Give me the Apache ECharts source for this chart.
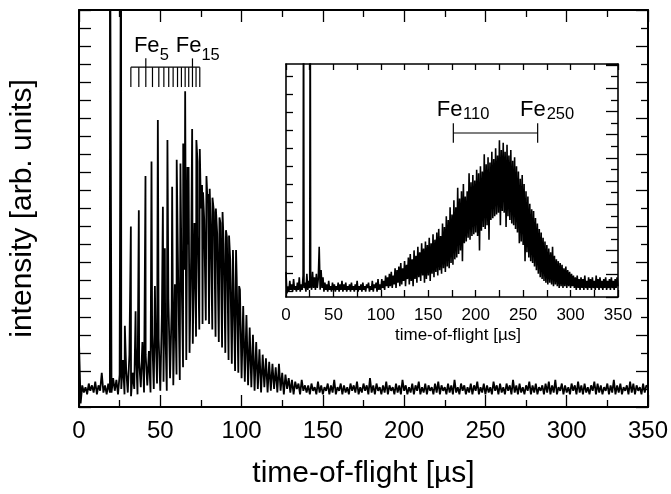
<!DOCTYPE html>
<html>
<head>
<meta charset="utf-8">
<script src="https://cdn.jsdelivr.net/npm/echarts@6/dist/echarts.min.js"></script>
<style>
html,body{margin:0;padding:0;background:#fff;}
#chart{width:671px;height:494px;}
</style>
</head>
<body>
<div id="chart"></div>
<script>
// ---------------- DATA ----------------
// Main spectrum: intensity sampled every 1 µs from 0 to 350 µs
const mainStep = 1;
const mainIntensity = [
 3.6,0.2,1.2,0.8,1.1,0.7,1.3,0.9,1.2,0.8,
 1.4,0.7,1.2,0.9,1.9,0.8,1.2,0.7,1.3,0.8,
 0.8,1.6,0.9,1.5,0.7,1.8,1.0,2.6,0.7,2.1,
 0.8,2.9,0.6,1.9,1.0,3.3,0.7,2.5,1.1,3.6,
 0.8,2.9,1.2,3.1,0.8,4.0,1.0,4.6,1.3,3.8,
 0.9,5.2,1.4,4.8,0.9,6.0,1.6,5.5,1.2,6.8,
 1.8,7.2,1.5,8.0,2.2,7.6,2.6,9.0,3.0,8.4,
 3.5,10.2,3.9,9.5,4.3,11.0,4.6,10.4,4.8,11.5,
 4.6,10.0,4.3,10.8,3.9,9.6,3.6,10.2,3.3,9.0,
 3.0,9.4,2.6,8.2,2.4,8.7,2.0,7.2,1.9,6.5,
 1.6,5.6,1.4,5.1,1.2,4.4,1.1,4.0,0.9,3.6,
 1.0,3.2,0.8,2.9,1.1,2.7,0.8,2.5,0.9,2.4,
 1.0,2.2,0.8,2.4,0.9,1.9,0.7,1.8,1.0,1.6,
 0.8,1.5,0.7,1.4,1.0,1.3,0.7,1.5,0.9,1.2,
 0.8,1.2,0.7,1.3,0.9,1.1,0.7,1.4,0.8,1.2,
 0.7,1.1,0.9,1.3,0.7,1.2,0.8,1.5,0.7,1.1,
 0.9,1.3,0.7,1.2,0.8,1.1,0.7,1.3,0.9,1.2,
 0.8,1.4,0.7,1.1,0.8,1.3,0.9,1.2,0.7,1.6,
 0.8,1.2,0.7,1.3,0.9,1.1,0.7,1.2,0.8,1.4,
 0.7,1.2,0.9,1.1,0.7,1.3,0.8,1.2,0.7,1.5,
 0.9,1.2,0.7,1.1,0.8,1.3,0.7,1.2,0.9,1.4,
 0.7,1.1,0.8,1.3,0.7,1.2,0.9,1.1,0.7,1.3,
 0.8,1.4,0.7,1.2,0.9,1.1,0.7,1.3,0.8,1.2,
 0.7,1.5,0.8,1.1,0.7,1.3,0.9,1.2,0.7,1.1,
 0.8,1.3,0.7,1.2,0.9,1.4,0.7,1.1,0.8,1.3,
 0.7,1.2,0.8,1.1,0.7,1.4,0.9,1.2,0.7,1.3,
 0.8,1.1,0.7,1.3,0.9,1.2,0.7,1.5,0.8,1.2,
 0.7,1.3,0.8,1.1,0.7,1.2,0.9,1.4,0.7,1.2,
 0.8,1.3,0.7,1.1,0.9,1.2,0.7,1.3,0.8,1.4,
 0.7,1.2,0.8,1.5,0.7,1.1,0.9,1.3,0.7,1.2,
 0.8,1.1,0.7,1.3,0.9,1.2,0.7,1.4,0.8,1.2,
 0.7,1.3,0.8,1.1,0.7,1.2,0.9,1.4,0.7,1.3,
 0.8,1.2,0.7,1.1,0.9,1.3,0.7,1.2,0.8,1.5,
 0.7,1.2,0.8,1.3,0.7,1.1,0.9,1.2,0.7,1.4,
 0.8,1.3,0.7,1.2,0.9,1.1,0.7,1.3,0.8,1.2,
 1.1
];
// Sharp cluster peaks in the main spectrum
const mainPeakTimes = [19.05,25.85,28.2,31.9,34.8,36.8,40.9,44.6,46.7,48.5,51.6,52.8,54.4,57.3,60.1,62.4,64.1,65.3,66.7,67.4,69.6,72.2,72.9,74.3,75.7,76.3,78.4,79.4,80.4,82.1,84.2,86.4,88.3,90.4,92.3,94.7,96.6,98.5];
const mainPeakHeights = [30,30,4.5,10.0,5.3,10.9,12.8,13.6,6.7,15.9,11.1,8.8,14.8,12.2,13.7,13.5,14.6,17.5,13.3,13.3,15.4,14.8,13.6,14.3,12.3,11.9,12.8,11.8,12.1,11.6,11.0,10.5,10.8,9.8,9.5,8.7,8.7,6.7];

// Inset spectrum: intensity sampled every 1 µs from 0 to 350 µs
const insetStep = 1;
const insetIntensity = [
 1.4,0.2,0.6,0.3,0.9,0.4,0.7,0.3,1.0,0.4,
 0.6,0.3,0.8,0.4,1.1,0.3,0.7,0.4,1.2,0.5,
 0.8,0.3,1.3,0.4,0.9,0.5,1.0,0.4,1.4,0.5,
 1.1,0.4,1.3,0.5,1.0,2.8,0.4,1.5,0.5,1.1,
 0.3,0.8,0.4,0.7,0.3,0.9,0.4,0.6,0.3,0.8,
 0.4,0.7,0.3,0.6,0.4,0.8,0.3,0.7,0.4,0.9,
 0.3,0.7,0.4,0.8,0.3,0.6,0.4,0.7,0.3,0.8,
 0.4,0.6,0.3,0.7,0.4,0.9,0.3,0.6,0.4,0.7,
 0.3,0.8,0.4,0.6,0.3,0.7,0.5,0.8,0.3,0.6,
 0.4,0.9,0.3,0.7,0.5,0.8,0.3,1.0,0.4,0.7,
 0.4,1.0,0.5,0.9,0.4,1.2,0.6,1.1,0.5,1.3,
 0.6,1.4,0.5,1.2,0.7,1.6,0.5,1.5,0.8,1.7,
 0.6,1.9,0.7,1.6,0.9,2.0,0.6,1.8,1.0,2.2,
 0.7,2.4,0.9,2.1,0.6,2.6,1.0,2.3,0.8,2.8,
 1.1,2.5,0.9,3.0,1.2,2.7,0.8,3.1,1.0,2.9,
 1.2,3.3,0.9,3.0,1.3,3.5,1.1,3.2,1.4,3.6,
 1.2,3.8,1.5,3.4,1.3,4.1,1.6,3.9,1.4,4.5,
 1.7,4.3,1.6,5.0,1.9,4.6,1.8,5.4,2.1,5.0,
 2.2,6.1,2.4,5.5,2.6,5.9,2.0,6.3,3.0,5.6,
 3.1,5.9,3.3,6.9,3.2,6.4,3.4,6.8,3.5,6.5,
 3.6,7.1,3.4,6.9,2.6,7.3,3.7,7.0,3.9,7.96,
 3.8,7.4,4.0,7.8,3.2,7.5,4.3,8.1,4.4,7.7,
 4.5,8.3,4.6,7.9,4.7,8.75,4.0,8.2,4.8,8.6,
 4.7,8.1,3.9,8.5,4.5,7.9,4.3,8.2,4.1,7.6,
 4.0,7.8,3.8,7.3,3.6,7.0,3.0,6.6,3.1,6.8,
 2.9,6.3,2.0,5.9,2.5,5.6,2.2,5.2,2.0,4.9,
 1.9,4.8,1.7,4.4,1.5,4.1,1.3,3.8,1.1,3.6,
 1.0,3.3,0.9,3.1,0.8,2.9,0.7,2.7,0.8,2.5,
 0.7,2.8,0.6,2.3,0.7,2.1,0.6,2.0,0.5,1.9,
 0.6,1.8,0.5,1.6,0.6,1.7,0.5,1.5,0.6,1.4,
 0.5,1.3,0.6,1.2,0.5,1.1,0.4,1.2,0.5,1.0,
 0.4,1.1,0.5,1.0,0.4,1.2,0.5,0.9,0.4,1.1,
 0.5,1.0,0.4,1.1,0.5,0.9,0.4,1.2,0.5,1.0,
 0.4,1.1,0.5,0.9,0.4,1.0,0.5,1.1,0.4,0.9,
 0.5,1.0,0.4,1.1,0.5,0.9,0.4,1.0,0.5,1.1,
 0.6
];
const insetPeakTimes = [18.5, 25.5];
const insetPeakHeights = [20, 20];

// Cluster-size markers (Fe_n positions on the time axis)
const combTimes = [31.9,36.8,41.1,45.2,49.1,52.2,55.2,57.9,60.6,63.0,65.3,67.5,69.8,72.0,74.3];
const combLabelled = [41.1, 69.8];           // Fe5, Fe15
const combLabels = [["Fe","5"],["Fe","15"]];
const insetRangeTimes = [176.4, 265.3];      // Fe110 .. Fe250
const insetLabels = [["Fe","110"],["Fe","250"]];

// Tick labels
const xTickLabels = [0,50,100,150,200,250,300,350];

// ---------------- LAYOUT / STYLE ----------------
const FONT = "'Liberation Sans', Arial, Helvetica, sans-serif";
const combLevel = 18.83, combDown = 17.73, combUp = 19.32;
const mainLabelPos = [[33.76, 20.0, 49.7, 19.5], [59.55, 20.0, 75.3, 19.5]];
const insetBarLevel = 9.15, insetBarHalf = 0.54;
const insetLabelPos = [[158.9, 10.44, 186.6, 10.16], [246.7, 10.44, 274.8, 10.16]];
const insetYTickValues = [0.3,1.3,2.3,3.3,4.3,5.3,6.3,7.3,8.3,9.3,10.3,11.3,12.3];

function buildTrace(values, step, peakT, peakH) {
  const pts = values.map((v, i) => [i * step, v]);
  peakT.forEach((t, i) => pts.push([t, peakH[i]]));
  pts.sort((a, b) => a[0] - b[0]);
  return pts;
}
const mainTrace = buildTrace(mainIntensity, mainStep, mainPeakTimes, mainPeakHeights);
const insetTrace = buildTrace(insetIntensity, insetStep, insetPeakTimes, insetPeakHeights);

// comb segments [x1,y1,x2,y2]
const combSegs = [[combTimes[0], combLevel, combTimes[combTimes.length-1], combLevel]];
combTimes.forEach(t => {
  const long = combLabelled.some(l => Math.abs(l - t) < 0.01);
  combSegs.push([t, long ? combUp : combLevel, t, combDown]);
});
const insetSegs = [
  [insetRangeTimes[0], insetBarLevel, insetRangeTimes[1], insetBarLevel],
  [insetRangeTimes[0], insetBarLevel + insetBarHalf, insetRangeTimes[0], insetBarLevel - insetBarHalf],
  [insetRangeTimes[1], insetBarLevel + insetBarHalf, insetRangeTimes[1], insetBarLevel - insetBarHalf]
];

const tickFmt = v => (xTickLabels.indexOf(v) >= 0 ? String(v) : '');

function xAx(o) {
  const a = {
    gridIndex: o.grid, type: 'value', position: o.pos, min: 0, max: 350, interval: o.interval,
    axisLine: { show: true, onZero: false, lineStyle: { color: '#000', width: o.lw } },
    axisTick: { show: true, inside: true, length: o.tickLen, lineStyle: { color: '#000', width: 1.3 } },
    axisLabel: { show: !!o.labelSize, formatter: tickFmt, fontSize: o.labelSize || 12, color: '#000',
                 margin: o.margin || 8, fontFamily: FONT, showMinLabel: true, showMaxLabel: true },
    splitLine: { show: false }
  };
  if (o.minorLen) a.minorTick = { show: true, splitNumber: 2, length: o.minorLen, lineStyle: { color: '#000', width: 1.3 } };
  if (o.name) {
    a.name = o.name; a.nameLocation = 'middle'; a.nameGap = o.nameGap;
    a.nameTextStyle = { fontSize: o.nameSize, color: '#000', fontFamily: FONT, padding: o.namePad || 0 };
  }
  return a;
}
function yAx(o) {
  const a = {
    gridIndex: o.grid, type: 'value', position: o.pos, min: 0, max: o.max, interval: o.interval,
    axisLine: { show: true, onZero: false, lineStyle: { color: '#000', width: o.lw } },
    axisTick: { show: true, inside: true, length: o.tickLen, lineStyle: { color: '#000', width: 1.3 } },
    axisLabel: { show: false },
    splitLine: { show: false }
  };
  if (o.custom) a.axisTick.customValues = o.custom;
  if (o.minorLen) a.minorTick = { show: true, splitNumber: 2, length: o.minorLen, lineStyle: { color: '#000', width: 1.3 } };
  if (o.name) {
    a.name = o.name; a.nameLocation = 'middle'; a.nameRotate = 90; a.nameGap = 41;
    a.nameTextStyle = { fontSize: 30, color: '#000', fontFamily: FONT };
  }
  return a;
}

function segSeries(xi, yi, data, z) {
  return {
    type: 'custom', xAxisIndex: xi, yAxisIndex: yi, silent: true, z: z,
    encode: { x: [0, 2], y: [1, 3] },
    data: data,
    renderItem: function (params, api) {
      const p1 = api.coord([api.value(0), api.value(1)]);
      const p2 = api.coord([api.value(2), api.value(3)]);
      return { type: 'line', shape: { x1: p1[0], y1: p1[1], x2: p2[0], y2: p2[1] },
               style: { stroke: '#000', lineWidth: 1.2 } };
    }
  };
}
function textSeries(xi, yi, items, size, z) {
  return {
    type: 'scatter', xAxisIndex: xi, yAxisIndex: yi, silent: true, symbolSize: 0, z: z,
    itemStyle: { opacity: 1, color: '#000' },
    data: items,
    label: { show: true, position: 'right', distance: 0, formatter: '{b}', fontSize: size,
             color: '#000', opacity: 1, fontFamily: FONT }
  };
}

const mainFe = combLabels.map((l, i) => ({ name: l[0], value: [mainLabelPos[i][0], mainLabelPos[i][1]] }));
const mainSub = combLabels.map((l, i) => ({ name: l[1], value: [mainLabelPos[i][2], mainLabelPos[i][3]] }));
const insFe = insetLabels.map((l, i) => ({ name: l[0], value: [insetLabelPos[i][0], insetLabelPos[i][1]] }));
const insSub = insetLabels.map((l, i) => ({ name: l[1], value: [insetLabelPos[i][2], insetLabelPos[i][3]] }));

const chart = echarts.init(document.getElementById('chart'), null, { renderer: 'canvas' });
chart.setOption({
  animation: false,
  backgroundColor: '#fff',
  textStyle: { fontFamily: FONT },
  grid: [
    { left: 79, top: 10, width: 570, height: 402, show: false },
    { left: 286, top: 64, width: 332, height: 233, show: true, backgroundColor: '#fff', borderWidth: 0 }
  ],
  xAxis: [
    xAx({ grid: 0, pos: 'bottom', interval: 50, tickLen: 12, minorLen: 7, lw: 2, labelSize: 24, margin: 12,
          name: 'time-of-flight [µs]', nameSize: 30, nameGap: 52 }),
    xAx({ grid: 0, pos: 'top', interval: 50, tickLen: 12, minorLen: 7, lw: 2 }),
    xAx({ grid: 1, pos: 'bottom', interval: 25, tickLen: 7, lw: 1.6, labelSize: 17, margin: 10,
          name: 'time-of-flight [µs]', nameSize: 17, nameGap: 30, namePad: [0, 0, 0, 12] }),
    xAx({ grid: 1, pos: 'top', interval: 25, tickLen: 6, lw: 1.6 })
  ],
  yAxis: [
    yAx({ grid: 0, pos: 'left', max: 22, interval: 1, tickLen: 12, lw: 2, name: 'intensity [arb. units]' }),
    yAx({ grid: 0, pos: 'right', max: 22, interval: 2, tickLen: 12, minorLen: 7, lw: 2 }),
    yAx({ grid: 1, pos: 'left', max: 13, interval: 1, tickLen: 7, lw: 1.6, custom: insetYTickValues }),
    yAx({ grid: 1, pos: 'right', max: 20.09, interval: 2, tickLen: 12, minorLen: 7, lw: 1.6 })
  ],
  series: [
    { type: 'line', xAxisIndex: 0, yAxisIndex: 0, data: mainTrace, symbol: 'none', silent: true,
      lineStyle: { color: '#000', width: 1.8 }, clip: true, z: 3 },
    segSeries(0, 0, combSegs, 4),
    textSeries(0, 0, mainFe, 22, 4),
    textSeries(0, 0, mainSub, 16.5, 4),
    { type: 'line', xAxisIndex: 2, yAxisIndex: 2, data: insetTrace, symbol: 'none', silent: true,
      lineStyle: { color: '#000', width: 1.6 }, clip: true, z: 6 },
    segSeries(2, 2, insetSegs, 6),
    textSeries(2, 2, insFe, 22, 6),
    textSeries(2, 2, insSub, 16.5, 6)
  ]
});
</script>
</body>
</html>
